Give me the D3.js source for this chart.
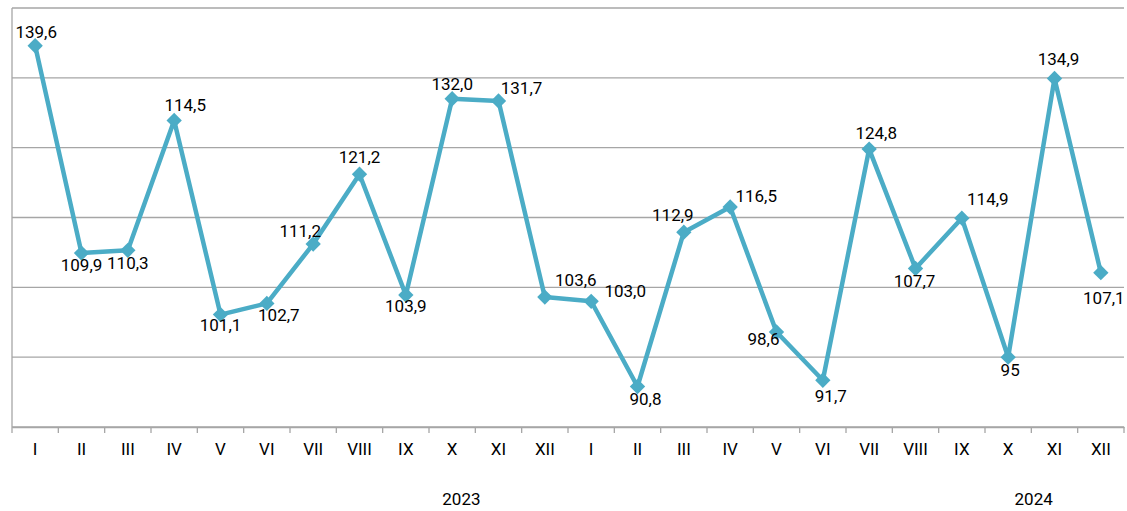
<!DOCTYPE html>
<html>
<head>
<meta charset="utf-8">
<script src="https://cdn.jsdelivr.net/npm/d3@7"></script>
<style>
  html, body { margin: 0; padding: 0; background: #fff; }
  text { font-family: Roboto, "Noto Sans", sans-serif; font-size: 17px; fill: #000; }
</style>
</head>
<body>
<svg id="chart" width="1127" height="511"></svg>
<script>
const months = ["I","II","III","IV","V","VI","VII","VIII","IX","X","XI","XII",
                "I","II","III","IV","V","VI","VII","VIII","IX","X","XI","XII"];
// plotted values (as drawn in the picture)
const values = [139.6, 109.9, 110.3, 128.9, 101.1, 102.7, 111.2, 121.2, 103.9, 132.0, 131.7, 103.6,
                103.0, 90.8, 112.9, 116.5, 98.6, 91.7, 124.8, 107.7, 114.9, 95, 134.9, 107.1];
// data labels (as printed)
const labels = ["139,6","109,9","110,3","114,5","101,1","102,7","111,2","121,2","103,9","132,0","131,7","103,6",
                "103,0","90,8","112,9","116,5","98,6","91,7","124,8","107,7","114,9","95","134,9","107,1"];
const gridTicks = [85, 95, 105, 115, 125, 135, 145];
const years = ["2023", "2024"];

// label placement relative to the point
const labelOffsets = [[1,-12],[0,13],[0,14],[11,-14],[0,12],[12,13],[-13,-12],[0,-16],[0,13],[0,-13],[23,-11],[31,-16],
                      [34,-9],[8,14],[-11,-16],[26,-10],[-13,8],[8,17],[7,-15],[-1,14],[26,-18],[2,14],[4,-18],[3,27]];
const yearPos = [9.7, 22.05];

const svg = d3.select("#chart");
const mLeft = 12, mRight = 1124, mTop = 8, mBottom = 427;
const color = "#4bacc6";
const gridColor = "#a6a6a6";

const x = d3.scaleBand().domain(d3.range(months.length)).range([mLeft, mRight]);
const y = d3.scaleLinear().domain([85, 145]).range([mBottom, mTop]);
const cx = i => x(i) + x.bandwidth() / 2;

// gridlines
svg.append("g").selectAll("line").data(gridTicks).join("line")
  .attr("x1", mLeft).attr("x2", mRight)
  .attr("y1", d => y(d)).attr("y2", d => y(d))
  .attr("stroke", gridColor).attr("stroke-width", 1.3);

// left axis line
svg.append("line")
  .attr("x1", mLeft).attr("x2", mLeft).attr("y1", mTop).attr("y2", mBottom)
  .attr("stroke", gridColor).attr("stroke-width", 1.3);

// x axis
const xAxis = d3.axisBottom(x).tickSize(0).tickFormat(i => months[i]);
const gx = svg.append("g").attr("transform", `translate(0,${mBottom})`).call(xAxis);
gx.select(".domain").attr("stroke", gridColor).attr("stroke-width", 1.3);
gx.selectAll("text").attr("dy", null).attr("y", 24).attr("dominant-baseline", "middle")
  .style("font-size", "17px").style("font-family", "Roboto, sans-serif").attr("fill", "#000");

// category boundary ticks
svg.append("g").selectAll("line").data(d3.range(months.length + 1)).join("line")
  .attr("x1", i => mLeft + i * x.step()).attr("x2", i => mLeft + i * x.step())
  .attr("y1", mBottom).attr("y2", mBottom + 6)
  .attr("stroke", gridColor).attr("stroke-width", 1.3);

// year labels
svg.append("g").selectAll("text").data(years).join("text")
  .attr("x", (d, i) => mLeft + yearPos[i] * x.step())
  .attr("y", 501)
  .attr("text-anchor", "middle").attr("dominant-baseline", "middle")
  .text(d => d);

// line
const line = d3.line().x((d, i) => cx(i)).y(d => y(d));
svg.append("path").datum(values)
  .attr("d", line).attr("fill", "none")
  .attr("stroke", color).attr("stroke-width", 4.5).attr("stroke-linejoin", "round");

// markers
svg.append("g").selectAll("path").data(values).join("path")
  .attr("d", d3.symbol().type(d3.symbolDiamond2).size(150))
  .attr("transform", (d, i) => `translate(${cx(i)},${y(d)})`)
  .attr("fill", color);

// data labels
svg.append("g").selectAll("text").data(values).join("text")
  .attr("x", (d, i) => cx(i) + labelOffsets[i][0])
  .attr("y", (d, i) => y(d) + labelOffsets[i][1])
  .attr("text-anchor", "middle").attr("dominant-baseline", "middle")
  .text((d, i) => labels[i]);
</script>
</body>
</html>
